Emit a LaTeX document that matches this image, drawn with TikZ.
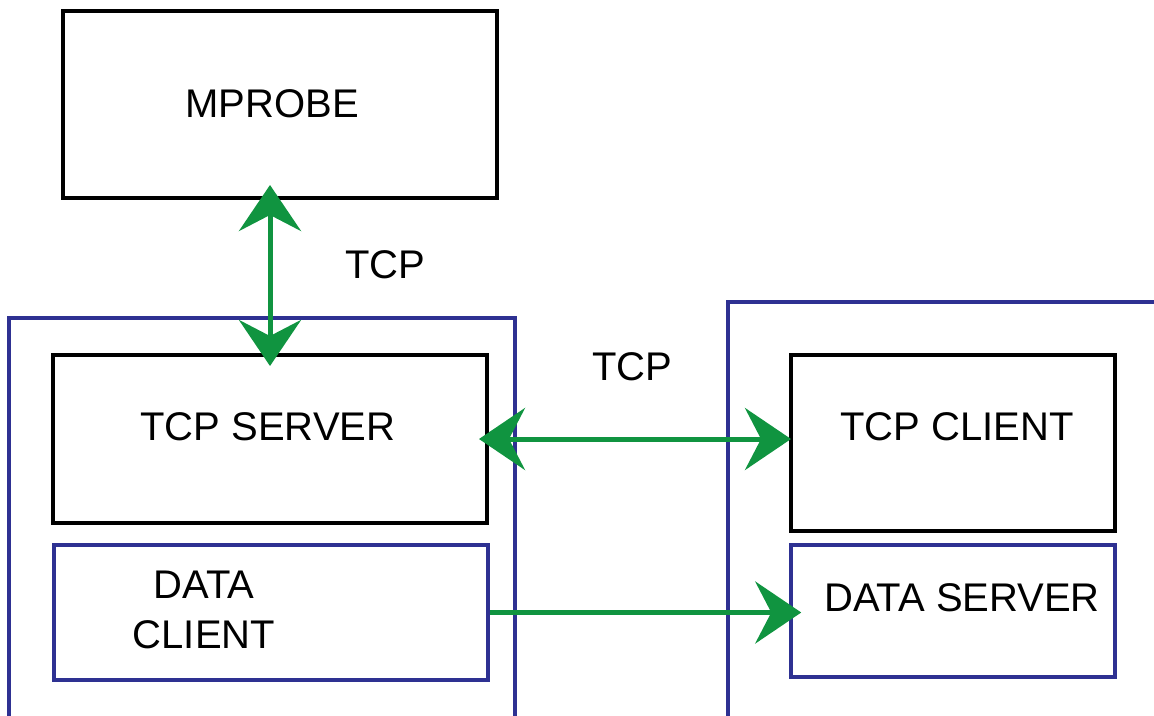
\documentclass[tikz,border=0pt]{standalone}
\usepackage{fontspec}
\setmainfont{Liberation Sans}
\usetikzlibrary{arrows.meta}
\definecolor{arrgreen}{RGB}{16,148,64}
\definecolor{boxblue}{RGB}{46,49,146}
\tikzset{
  gtip/.tip={Stealth[length=46pt,width=62pt,inset=16pt,fill=arrgreen]},
  blackbox/.style={draw=black, line width=4pt, inner sep=0pt},
  bluebox/.style={draw=boxblue, line width=3.5pt, inner sep=0pt},
  lbl/.style={font=\fontsize{40}{50}\selectfont, inner sep=0pt, align=center},
  conn/.style={draw=arrgreen, line width=5pt, arrows={gtip-gtip}},
  conn1/.style={draw=arrgreen, line width=5pt, -{gtip}}
}
\begin{document}
\begin{tikzpicture}[x=1pt,y=-1pt]
\useasboundingbox (0,0) rectangle (1154,715);
% outer containers
\draw[boxblue, line width=3.5pt] (9,740) -- (9,318) -- (515,318) -- (515,740);
\draw[boxblue, line width=3.5pt] (728,740) -- (728,302) -- (1180,302);
% boxes
\node[blackbox, minimum width=434pt, minimum height=187pt] (mprobe) at (280,104.5) {};
\node[blackbox, minimum width=434pt, minimum height=168pt] (tcpserver) at (270,439) {};
\node[bluebox, minimum width=434pt, minimum height=135pt] (dataclient) at (271,612.5) {};
\node[blackbox, minimum width=324pt, minimum height=176pt] (tcpclient) at (953,443) {};
\node[bluebox, minimum width=324pt, minimum height=132pt] (dataserver) at (953,611) {};
% labels
\node[lbl] (tmprobe) at (272,104) {MPROBE};
\node[lbl] (tserver) at (268,427) {TCP SERVER};
\node[lbl] (tclient) at (957,427) {TCP CLIENT};
\node[lbl] (tdserver) at (962,598) {DATA SERVER};
\node[lbl] (tdclient) at (204,610) {DATA\\CLIENT};
\node[lbl] (tcp1) at (385,265) {TCP};
\node[lbl] (tcp2) at (632,367) {TCP};
% connectors
\draw[conn, shorten <=-15pt, shorten >=-13pt] (mprobe.south -| tcpserver.north) -- (tcpserver.north);
\draw[conn, shorten <=-10pt, shorten >=-2pt] (tcpserver.east) -- (tcpclient.west |- tcpserver.east);
\draw[conn1, shorten >=-12pt] (dataclient.east) -- (dataserver.west |- dataclient.east);
\end{tikzpicture}
\end{document}
